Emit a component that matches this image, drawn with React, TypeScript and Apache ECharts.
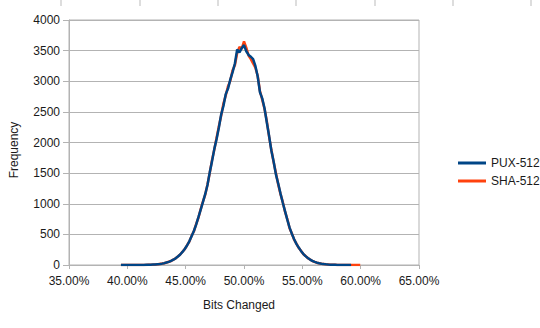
import React, { useEffect, useRef } from "react";
import * as echarts from "echarts";

const totalBits = 512;
const firstBit = 202;
const seriesNames = ["PUX-512", "SHA-512"];
const xTickMin = 35;
const xTickMax = 65;
const xTickStep = 5;
const yTickMax = 4000;
const yTickStep = 500;

// frequency per number of changed bits, starting at firstBit
const puxValues = [
  0, 0, 0, 0, 0, 0,
  1, 1, 1, 1, 2, 3, 3,
  5, 7, 9, 13, 17, 22, 30,
  41, 51, 67, 86, 109, 138, 172,
  213, 262, 318, 386,
  470, 555, 660, 780, 905, 1030, 1160, 1310,
  1520, 1700, 1900, 2060, 2250, 2460, 2600, 2790, 2880, 3030, 3150, 3290,
  3520, 3470, 3540, 3590, 3490, 3430, 3400, 3360, 3250,
  3080, 2820, 2720, 2560, 2330, 2110, 1870, 1690, 1480, 1330, 1170, 1020,
  880, 740, 610, 510, 420, 345, 285, 230, 182, 145, 115, 88,
  67, 51, 38, 28, 21, 15, 11, 8, 6, 4, 3, 2, 1, 1, 1,
  0, 0, 0,
];

const shaValues = [
  0, 0, 0, 0, 0, 0,
  1, 1, 1, 2, 2, 2, 4,
  5, 6, 10, 12, 18, 23, 29,
  40, 53, 65, 88, 107, 141, 170,
  216, 259, 322, 381,
  475, 550, 668, 772, 912, 1040, 1150, 1320,
  1510, 1720, 1890, 2080, 2270, 2440, 2640, 2770, 2920, 3010, 3180, 3260,
  3460, 3560, 3530, 3650, 3550, 3420, 3360, 3290, 3220,
  3090, 2840, 2700, 2550, 2350, 2100, 1880, 1680, 1500, 1320, 1160, 1030,
  870, 750, 600, 515, 415, 350, 280, 232, 180, 148, 112, 90,
  66, 52, 37, 29, 20, 16, 11, 9, 5, 4, 3, 2, 2, 1, 1,
  1, 0, 1, 0, 0, 0, 0,
];

const toPairs = (vals: number[]) =>
  vals.map((v, i) => [((firstBit + i) / totalBits) * 100, v]);

const rulerTicks = [61, 140, 218, 296, 375, 453, 531];

export default function App() {
  const ref = useRef<HTMLDivElement>(null);
  useEffect(() => {
    document.body.style.margin = "0";
    const chart = echarts.init(ref.current!, null, { renderer: "svg" });
    const font = "Liberation Sans, Arial, sans-serif";
    const gray = "#b3b3b3";
    chart.setOption({
      animation: false,
      backgroundColor: "#ffffff",
      textStyle: { fontFamily: font },
      grid: {
        left: 69,
        right: 121,
        top: 20,
        bottom: 63,
        show: true,
        borderColor: gray,
        borderWidth: 1,
        containLabel: false,
      },
      legend: {
        orient: "vertical",
        left: 453,
        top: 152,
        data: seriesNames,
        icon: "rect",
        itemWidth: 28,
        itemHeight: 3,
        itemGap: 6,
        textStyle: { fontSize: 12, color: "#1a1a1a", fontFamily: font },
      },
      xAxis: {
        type: "value",
        min: xTickMin,
        max: xTickMax,
        interval: xTickStep,
        splitLine: { show: false },
        axisLine: { show: true, lineStyle: { color: gray } },
        axisTick: { show: true, length: 4, lineStyle: { color: gray } },
        axisLabel: {
          fontSize: 12,
          color: "#1a1a1a",
          margin: 10,
          fontFamily: font,
          formatter: (v: number) => v.toFixed(2) + "%",
        },
      },
      yAxis: {
        type: "value",
        min: 0,
        max: yTickMax,
        interval: yTickStep,
        splitLine: { show: true, lineStyle: { color: gray } },
        axisLine: { show: true, lineStyle: { color: gray } },
        axisTick: { show: true, length: 6, lineStyle: { color: gray } },
        axisLabel: {
          fontSize: 12,
          color: "#1a1a1a",
          margin: 9,
          fontFamily: font,
          formatter: (v: number) => String(v),
        },
      },
      graphic: [
        ...rulerTicks.map((x) => ({
          type: "line",
          shape: { x1: x, y1: 0, x2: x, y2: 6 },
          style: { stroke: "#bbbbbb", lineWidth: 1 },
        })),
        {
          type: "text",
          x: 14,
          y: 150,
          rotation: Math.PI / 2,
          style: {
            text: "Frequency",
            fontSize: 12,
            fontFamily: font,
            fill: "#1a1a1a",
            align: "center",
            verticalAlign: "middle",
          },
        },
        {
          type: "text",
          x: 239,
          y: 305,
          style: {
            text: "Bits Changed",
            fontSize: 12,
            fontFamily: font,
            fill: "#1a1a1a",
            align: "center",
            verticalAlign: "middle",
          },
        },
      ],
      series: [
        {
          name: seriesNames[1],
          type: "line",
          data: toPairs(shaValues),
          showSymbol: false,
          symbol: "none",
          color: "#ff420e",
          lineStyle: { width: 2.5, color: "#ff420e" },
        },
        {
          name: seriesNames[0],
          type: "line",
          data: toPairs(puxValues),
          showSymbol: false,
          symbol: "none",
          color: "#004586",
          lineStyle: { width: 2.5, color: "#004586" },
        },
      ],
    });
    return () => chart.dispose();
  }, []);
  return (
    <div
      ref={ref}
      style={{ position: "fixed", left: 0, top: 0, width: 540, height: 328 }}
    />
  );
}
